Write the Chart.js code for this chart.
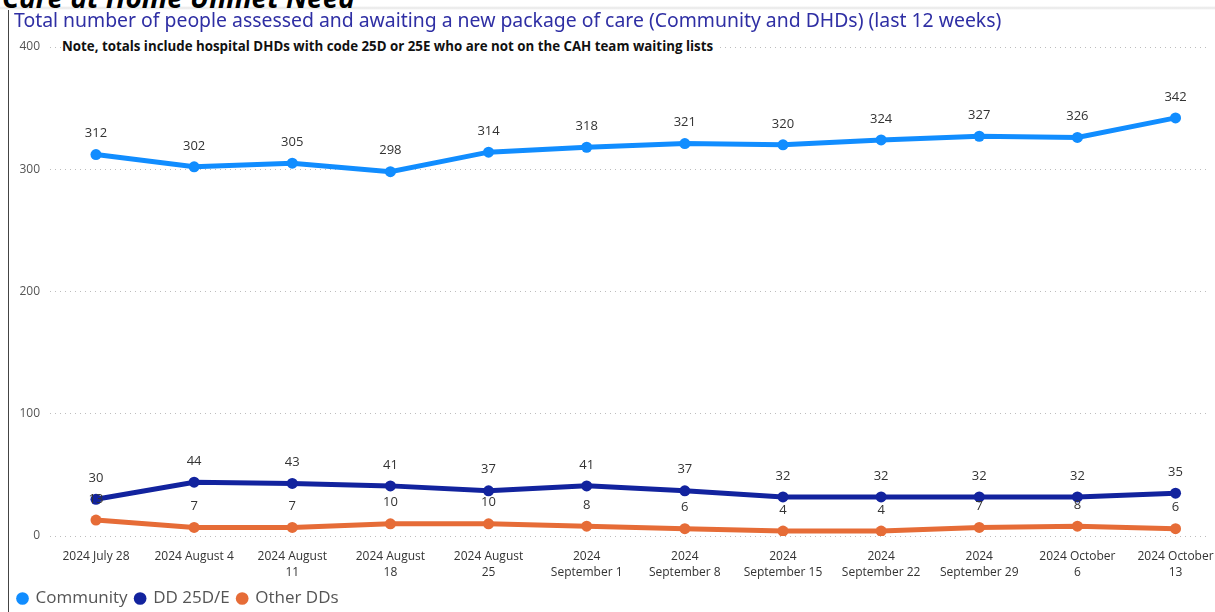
<!DOCTYPE html>
<html>
<head>
<meta charset="utf-8">
<script src="https://cdn.jsdelivr.net/npm/chart.js@4.4.1/dist/chart.umd.min.js"></script>
<style>
  body { margin: 0; background: #fff; width: 1215px; height: 612px; overflow: hidden; position: relative; font-family: "Open Sans", sans-serif; }
  #head { position: absolute; left: 2px; top: -22px; font: italic bold 28px "Open Sans", sans-serif; color: #000; white-space: nowrap; }
  #frame { position: absolute; left: 8px; top: 10px; width: 1px; height: 602px; background: #444; }
  #shade { position: absolute; left: 0; top: 6px; width: 1215px; height: 4px; background: linear-gradient(#fff, #e6e6e6, #fff); }
  #title { position: absolute; left: 14px; top: 6px; font: 19.4px "Noto Sans", sans-serif; color: #2f2fa4; white-space: nowrap; }
  #note { position: absolute; left: 62px; top: 37px; font: bold 13.3px "Open Sans", sans-serif; color: #111; white-space: nowrap; background: #fff; padding-right: 6px; z-index: 2; }
  #wrap { position: absolute; left: 0; top: 0; width: 1215px; height: 612px; }
</style>
</head>
<body>
<div id="shade"></div>
<div id="head">Care at Home Unmet Need</div>
<div id="frame"></div>
<div id="wrap"><canvas id="chart"></canvas></div>
<div id="title">Total number of people assessed and awaiting a new package of care (Community and DHDs) (last 12 weeks)</div>
<div id="note">Note, totals include hospital DHDs with code 25D or 25E who are not on the CAH team waiting lists</div>
<script>
const weeks = [
  "2024 July 28", "2024 August 4", ["2024 August", "11"], ["2024 August", "18"],
  ["2024 August", "25"], ["2024", "September 1"], ["2024", "September 8"],
  ["2024", "September 15"], ["2024", "September 22"], ["2024", "September 29"],
  ["2024 October", "6"], ["2024 October", "13"]
];
const community = [312, 302, 305, 298, 314, 318, 321, 320, 324, 327, 326, 342];
const dd25 = [30, 44, 43, 41, 37, 41, 37, 32, 32, 32, 32, 35];
const otherDDs = [13, 7, 7, 10, 10, 8, 6, 4, 4, 7, 8, 6];
const yTicks = [0, 100, 200, 300, 400];

function toPoints(values) {
  return values.map((v, i) => ({ x: i, y: v }));
}

// value labels above each point
const valueLabels = {
  id: "valueLabels",
  afterDatasetsDraw(chart) {
    const ctx = chart.ctx;
    ctx.save();
    ctx.font = '13px "Open Sans", sans-serif';
    ctx.fillStyle = "#333";
    ctx.textAlign = "center";
    ctx.textBaseline = "middle";
    chart.data.datasets.forEach((ds, di) => {
      chart.getDatasetMeta(di).data.forEach((pt, i) => {
        ctx.fillText(ds.data[i].y, pt.x, pt.y - 21);
      });
    });
    ctx.restore();
  }
};

const series = [
  { label: "Community", values: community, color: "#118DFF" },
  { label: "DD 25D/E", values: dd25, color: "#12239E" },
  { label: "Other DDs", values: otherDDs, color: "#E66C37" }
];

new Chart(document.getElementById("chart"), {
  type: "line",
  data: {
    datasets: series.map((s) => ({
      label: s.label,
      data: toPoints(s.values),
      borderColor: s.color,
      backgroundColor: s.color,
      borderWidth: 5,
      pointRadius: 5.5,
      pointHoverRadius: 5.5,
      pointBorderWidth: 0,
      tension: 0,
      fill: false
    }))
  },
  options: {
    responsive: true,
    maintainAspectRatio: false,
    animation: false,
    layout: { padding: { left: 10, right: 5, top: 47, bottom: -5 } },
    plugins: {
      tooltip: { enabled: false },
      legend: {
        position: "bottom",
        align: "start",
        labels: {
          usePointStyle: true,
          pointStyle: "circle",
          boxWidth: 9,
          boxHeight: 9,
          padding: 8,
          color: "#555",
          font: { family: "Open Sans", size: 17 }
        }
      }
    },
    scales: {
      x: {
        type: "linear",
        min: -0.4685,
        max: 11.346,
        grid: { display: false },
        border: { display: false },
        afterFit: (scale) => {
          scale.height = 46;
          scale.paddingLeft = 0;
          scale.paddingRight = 0;
        },
        ticks: {
          stepSize: 1,
          includeBounds: false,
          autoSkip: false,
          maxRotation: 0,
          color: "#333",
          font: { family: "Open Sans", size: 12, lineHeight: 1.35 },
          padding: 4,
          callback: (v) => (Number.isInteger(v) && weeks[v] !== undefined ? weeks[v] : "")
        }
      },
      y: {
        min: 0,
        max: 400,
        afterFit: (scale) => { scale.width = 40; },
        afterBuildTicks: (scale) => { scale.ticks = yTicks.map((v) => ({ value: v })); },
        border: { display: false, dash: [1, 4] },
        grid: { color: "#bdbdbd", lineWidth: 1, drawTicks: false },
        ticks: {
          color: "#555",
          padding: 10,
          font: { family: "Open Sans", size: 12 }
        }
      }
    }
  },
  plugins: [valueLabels]
});
</script>
</body>
</html>
